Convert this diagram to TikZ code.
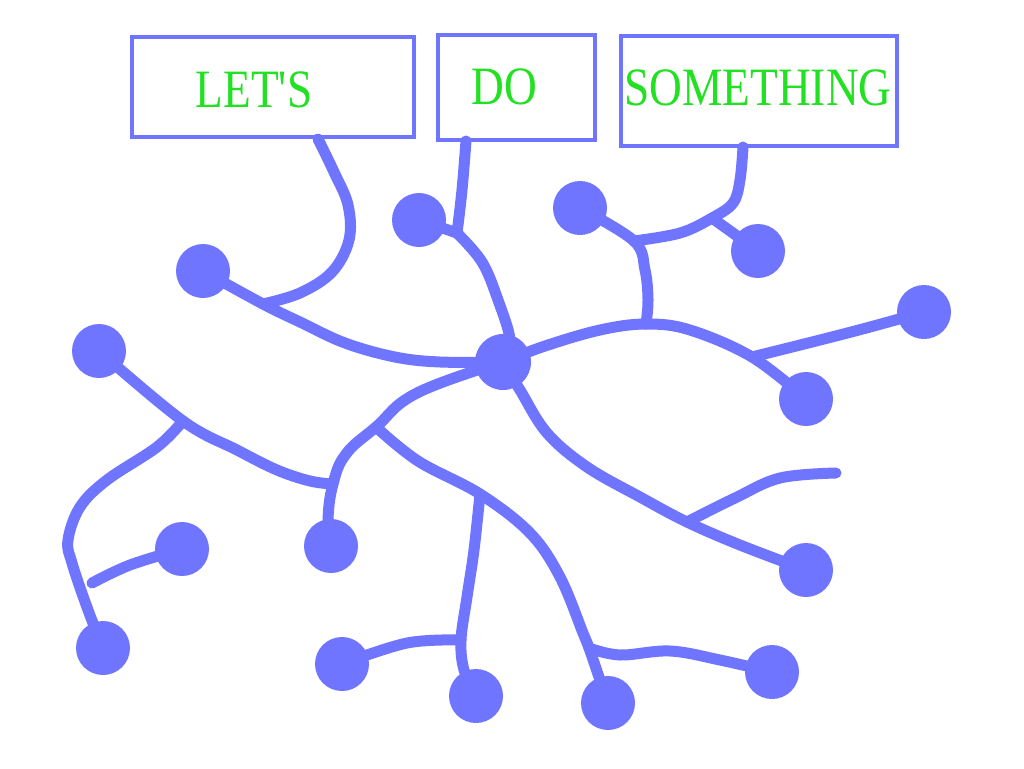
\documentclass[tikz,border=0pt]{standalone}
\usepackage{fontspec}
\newfontfamily\boardfont{Liberation Serif}[FakeStretch=0.84]
\usetikzlibrary{shapes}
\definecolor{netblue}{HTML}{6F75FF}
\definecolor{wordgreen}{HTML}{22E022}
\pgfdeclarelayer{paper}
\pgfdeclarelayer{wires}
\pgfsetlayers{paper,wires,main}

\begin{document}
\begin{tikzpicture}[x=1pt, y=-1pt,
  dot/.style={circle, fill=netblue, minimum size=54, inner sep=0},
  hub/.style={dot, minimum size=56},
  board/.style={draw=netblue, line width=4.5, inner sep=0},
  word/.style={text=wordgreen, font=\boardfont\fontsize{54}{54}\selectfont, anchor=base, inner sep=0},
  wire/.style={draw=netblue, line width=11, line cap=round, line join=round}]
\begin{pgfonlayer}{paper}
\fill[white] (0,0) rectangle (1024,768);
\end{pgfonlayer}
\useasboundingbox (0,0) rectangle (1024,768);

% boards
\node [board, minimum width=282, minimum height=100] (box1) at (273,87) {};
\node [board, minimum width=157, minimum height=105] (box2) at (516.5,87.5) {};
\node [board, minimum width=276, minimum height=110] (box3) at (759,91) {};
\node [word] (lets) at (254,107) {LET'S};
\node [word] (do) at (504,104) {DO};
\node [word] (something) at (758,105) {SOMETHING};

% dots
\node [hub] (c) at (503,362) {};
\node [dot] (d1) at (203,271) {};
\node [dot] (d2) at (419,220) {};
\node [dot] (d3) at (580,208) {};
\node [dot] (d4) at (758,251) {};
\node [dot] (d5) at (924,312) {};
\node [dot] (d6) at (806,399) {};
\node [dot] (d7) at (99,351) {};
\node [dot] (d8) at (331,546) {};
\node [dot] (d9) at (182,549) {};
\node [dot] (d10) at (103,648) {};
\node [dot] (d11) at (806,570) {};
\node [dot] (d12) at (342,664) {};
\node [dot] (d13) at (476,696) {};
\node [dot] (d14) at (608,703) {};
\node [dot] (d15) at (772,672) {};

% branch points
\coordinate (t1) at (318,139);
\coordinate (t2) at (466,141);
\coordinate (t3) at (743,147);
\coordinate (j1) at (263,304);
\coordinate (j2) at (457,233);
\coordinate (j3) at (712,218);
\coordinate (j4) at (634,241);
\coordinate (j5) at (646,324);
\coordinate (j6) at (752,357);
\coordinate (j7) at (376,427);
\coordinate (j8) at (333,484);
\coordinate (j9) at (183,421);
\coordinate (j11) at (480,494);
\coordinate (j12) at (589,648);
\coordinate (j13) at (461,640);
\coordinate (j14) at (687,522);
\coordinate (e1) at (92,583);
\coordinate (e2) at (836,473);

\begin{pgfonlayer}{wires}
\draw [wire] plot [smooth, tension=0.6] coordinates {(t1) (334,172) (348,205) (349,240) (332,272) (300,293) (j1)};
\draw [wire] plot [smooth, tension=0.6] coordinates {(d1.center) (j1) (300,322) (345,343) (395,357) (440,362) (c.center)};
\draw [wire] plot [smooth, tension=0.6] coordinates {(t2) (462,190) (j2)};
\draw [wire] (d2.center) -- (j2);
\draw [wire] plot [smooth, tension=0.6] coordinates {(j2) (482,262) (498,300) (510,340) (c.center)};
\draw [wire] plot [smooth, tension=0.6] coordinates {(t3) (740,180) (733,203) (j3) (680,233) (j4)};
\draw [wire] plot [smooth, tension=0.6] coordinates {(d3.center) (j4) (645,270) (648,300) (j5)};
\draw [wire] (j3) -- (d4.center);
\draw [wire] plot [smooth, tension=0.6] coordinates {(c.center) (545,346) (600,330) (j5) (690,330) (j6) (d6.center)};
\draw [wire] plot [smooth, tension=0.6] coordinates {(j6) (820,340) (870,327) (d5.center)};
\draw [wire] plot [smooth, tension=0.7] coordinates {(c.center) (417,393) (j7) (346,454) (j8) (328,520) (d8.center)};
\draw [wire] plot [smooth, tension=0.6] coordinates {(d7.center) (j9) (237,450) (277,470) (310,481) (j8)};
\draw [wire] plot [smooth, tension=0.6] coordinates {(j9) (157,447) (107,480) (80,507) (68,540) (72,563) (88,610) (d10.center)};
\draw [wire] plot [smooth, tension=0.6] coordinates {(d9.center) (130,565) (e1)};
\draw [wire] plot [smooth, tension=0.6] coordinates {(j7) (418,461) (j11) (530,533) (560,577) (583,633) (j12) (600,680) (d14.center)};
\draw [wire] plot [smooth, tension=0.6] coordinates {(j12) (620,655) (670,651) (720,660) (d15.center)};
\draw [wire] plot [smooth, tension=0.6] coordinates {(j11) (474,550) (467,597) (j13) (464,670) (d13.center)};
\draw [wire] plot [smooth, tension=0.6] coordinates {(j13) (407,643) (d12.center)};
\draw [wire] plot [smooth, tension=0.6] coordinates {(c.center) (520,390) (547,433) (587,467) (640,497) (j14) (740,545) (d11.center)};
\draw [wire] plot [smooth, tension=0.6] coordinates {(j14) (735,498) (780,478) (e2)};
\end{pgfonlayer}
\end{tikzpicture}
\end{document}
